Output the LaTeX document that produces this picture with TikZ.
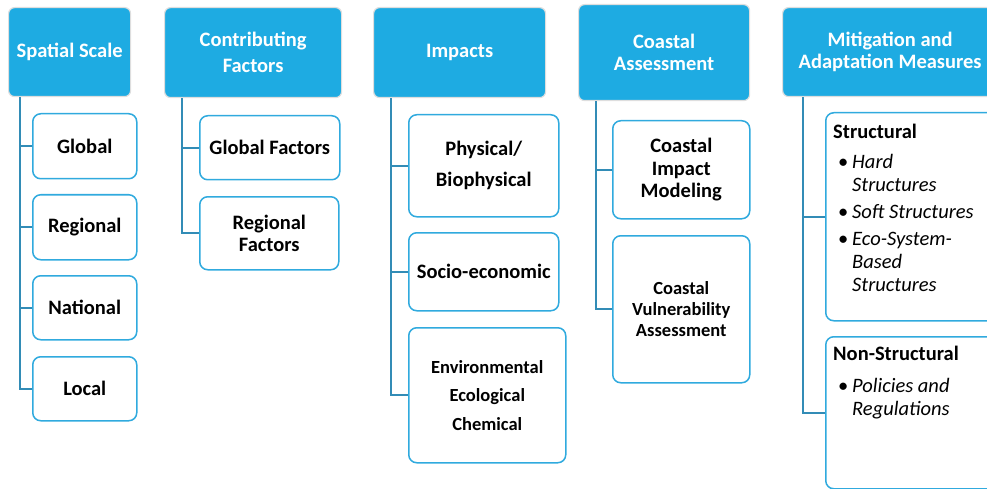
\documentclass[tikz,border=0pt]{standalone}
\usepackage{fontspec}
\setmainfont{Carlito}
\usetikzlibrary{positioning}
\definecolor{headblue}{RGB}{30,171,226}
\definecolor{boxblue}{RGB}{48,170,222}
\definecolor{linkblue}{RGB}{50,140,182}
\tikzset{
    %Define style for the blue header boxes
    head/.style={
           rectangle,
           rounded corners=6pt,
           draw=black!13, line width=1.2pt,
           fill=headblue, text=white,
           font=\bfseries\fontsize{20.5}{22}\selectfont,
           align=center,
           anchor=north west,
           inner sep=0pt},
    %Define style for the white boxes
    item/.style={
           rectangle,
           rounded corners=8pt,
           draw=boxblue, line width=1.5pt,
           fill=white,
           font=\bfseries\fontsize{20.5}{22}\selectfont,
           align=center,
           anchor=north west,
           inner sep=0pt},
    listtext/.style={
           anchor=north west,
           inner sep=0pt,
           align=left,
           font=\fontsize{20.5}{23}\selectfont},
    % Define connector style
    link/.style={
           draw=linkblue,
           line width=1.6pt}
}

\begin{document}
\begin{tikzpicture}[x=1pt,y=-1pt]
\useasboundingbox (0,0) rectangle (987,489);
\clip (0,0) rectangle (987,489);
% headers
\node[head, minimum width=122, minimum height=89](ss) at (8,7){Spatial Scale};
\node[head, minimum width=177, minimum height=90, font=\bfseries\fontsize{20.5}{26}\selectfont](cf) at (164,7){Contributing\\Factors};
\node[head, minimum width=172, minimum height=90](im) at (373,7){Impacts};
\node[head, minimum width=171, minimum height=96](ca) at (578,4){Coastal\\Assessment};
\node[head, minimum width=215, minimum height=89](ma) at (782,7){Mitigation and\\Adaptation Measures};
% spatial scale
\node[item, minimum width=104, minimum height=65](gl) at (32,113){Global};
\node[item, minimum width=104, minimum height=65](rg) at (32,194){Regional};
\node[item, minimum width=104, minimum height=64](na) at (32,275){National};
\node[item, minimum width=104, minimum height=64](lo) at (32,356){Local};
% contributing factors
\node[item, minimum width=140, minimum height=64](gf) at (199,115){Global Factors};
\node[item, minimum width=139, minimum height=73](rf) at (199,196){Regional\\Factors};
% impacts
\node[item, minimum width=150, minimum height=102, font=\bfseries\fontsize{20.5}{31}\selectfont](pb) at (408,114){Physical/\\Biophysical};
\node[item, minimum width=150, minimum height=78](se) at (408,232){Socio-economic};
\node[item, minimum width=157, minimum height=135, font=\bfseries\fontsize{18.5}{28.5}\selectfont](ec) at (408,327){Environmental\\Ecological\\Chemical};
% coastal assessment
\node[item, minimum width=137, minimum height=98, font=\bfseries\fontsize{20.5}{22.5}\selectfont](cm) at (612,120){Coastal\\Impact\\Modeling};
\node[item, minimum width=137, minimum height=147, font=\bfseries\fontsize{18.5}{21}\selectfont](cv) at (612,235){Coastal\\Vulnerability\\Assessment};
% mitigation and adaptation
\node[item, minimum width=175, minimum height=208](st) at (825,112){};
\node[item, minimum width=175, minimum height=152](ns) at (825,336){};
\node[listtext](sttext) at (833,124){\textbf{Structural}\\[7pt]
  \hspace*{5pt}\makebox[14pt][l]{\textbullet}\textit{Hard}\\
  \hspace*{19pt}\textit{Structures}\\[4pt]
  \hspace*{5pt}\makebox[14pt][l]{\textbullet}\textit{Soft Structures}\\[4pt]
  \hspace*{5pt}\makebox[14pt][l]{\textbullet}\textit{Eco-System-}\\
  \hspace*{19pt}\textit{Based}\\
  \hspace*{19pt}\textit{Structures}};
\node[listtext](nstext) at (833,346){\textbf{Non-Structural}\\[9pt]
  \hspace*{5pt}\makebox[14pt][l]{\textbullet}\textit{Policies and}\\
  \hspace*{19pt}\textit{Regulations}};
% connectors
\draw[link] ([xshift=12]ss.south west) |- (gl.west);
\draw[link] ([xshift=12]ss.south west) |- (rg.west);
\draw[link] ([xshift=12]ss.south west) |- (na.west);
\draw[link] ([xshift=12]ss.south west) |- (lo.west);
\draw[link] ([xshift=18]cf.south west) |- (gf.west);
\draw[link] ([xshift=18]cf.south west) |- (rf.west);
\draw[link] ([xshift=18]im.south west) |- (pb.west);
\draw[link] ([xshift=18]im.south west) |- (se.west);
\draw[link] ([xshift=18]im.south west) |- (ec.west);
\draw[link] ([xshift=18]ca.south west) |- (cm.west);
\draw[link] ([xshift=18]ca.south west) |- (cv.west);
\draw[link] ([xshift=21]ma.south west) |- (st.west);
\draw[link] ([xshift=21]ma.south west) |- (ns.west);
\end{tikzpicture}
\end{document}
